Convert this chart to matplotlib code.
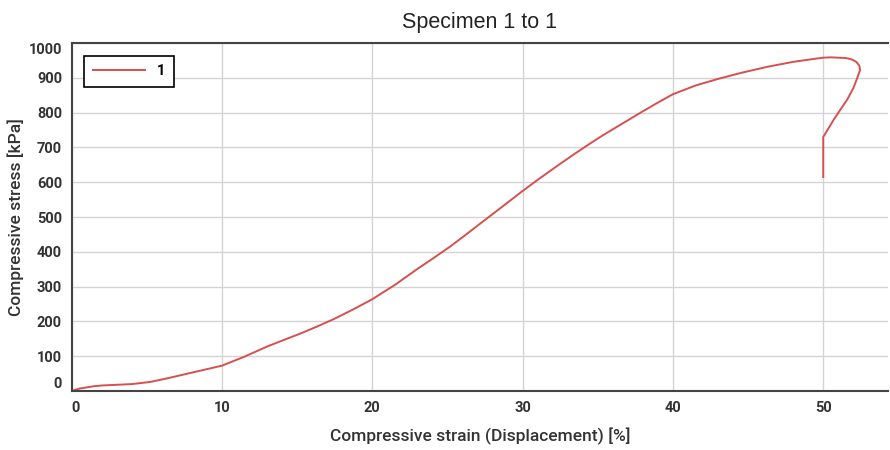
import matplotlib
matplotlib.use("Agg")
import matplotlib.pyplot as plt

# strain [%] and stress [kPa]
strain = [0.0, 0.5, 1.5, 2.0, 3.0, 4.0, 5.2, 6.3, 7.4, 8.5, 10.0, 11.5,
          13.0, 14.0, 15.2, 16.3, 17.4, 18.7, 20.0, 21.5, 23.0, 24.0, 25.2,
          26.0, 27.2, 28.5, 30.0, 31.0, 32.3, 33.3, 34.3, 35.3, 36.3, 37.0,
          38.0, 39.0, 40.0, 41.5, 43.0, 44.5, 46.3, 48.0, 49.3, 50.0, 50.5,
          51.0, 51.5, 51.9, 52.2, 52.4, 52.45, 52.3, 52.0, 51.6, 50.7,
          50.0, 50.0]
stress = [0, 7, 14, 16, 18, 20, 26, 36, 47, 58, 73, 99,
          128, 145, 165, 185, 206, 234, 264, 305, 351, 380, 416,
          442, 482, 525, 575, 607, 647, 677, 706, 734, 760, 778,
          804, 829, 853, 878, 897, 914, 932, 946, 954, 958, 959,
          958, 957, 953, 946, 935, 922, 904, 870, 838, 780,
          730, 615]

xticks = [0, 10, 20, 30, 40, 50]
yticks = [0, 100, 200, 300, 400, 500, 600, 700, 800, 900, 1000]

plt.rcParams['font.family'] = ['Roboto', 'DejaVu Sans']

fig = plt.figure(figsize=(8.9, 4.5), dpi=100)
ax = fig.add_axes([0.0806, 0.131, 0.917, 0.7733])

ax.plot(strain, stress, color='#d65050', lw=1.4, label='1')

ax.set_xlim(0, 54.3)
ax.set_ylim(0, 1000)
ax.set_xticks(xticks)
ax.set_yticks(yticks)
ax.grid(True, color='#d4d4d4', lw=1)
ax.set_axisbelow(True)
ax.tick_params(length=0, labelsize=10.5, labelcolor='#333333', pad=7)
for lab in ax.get_xticklabels() + ax.get_yticklabels():
    lab.set_fontweight('bold')
ax.get_yticklabels()[0].set_va('bottom')
ax.get_yticklabels()[-1].set_va('top')
ax.get_xticklabels()[0].set_ha('left')

for s in ['left', 'bottom', 'top']:
    ax.spines[s].set_color('#444444')
    ax.spines[s].set_linewidth(1.5)
ax.spines['right'].set_visible(False)

ax.set_xlabel('Compressive strain (Displacement) [%]', fontsize=12.5,
              fontweight='medium', color='#333333', labelpad=9)
ax.set_ylabel('Compressive stress [kPa]', fontsize=12.5,
              fontweight='medium', color='#333333', labelpad=3)
ax.set_title('Specimen 1 to 1', fontsize=15.5, color='#222222', pad=11,
             family=['Liberation Sans', 'DejaVu Sans'])

leg = ax.legend(loc='upper left', fancybox=False, edgecolor='black',
                framealpha=1, handlelength=3.6, borderpad=0.6,
                prop={'weight': 'bold', 'size': 10.5},
                bbox_to_anchor=(0.006, 0.985))
leg.get_frame().set_linewidth(1.2)

fig.savefig('out.png')
